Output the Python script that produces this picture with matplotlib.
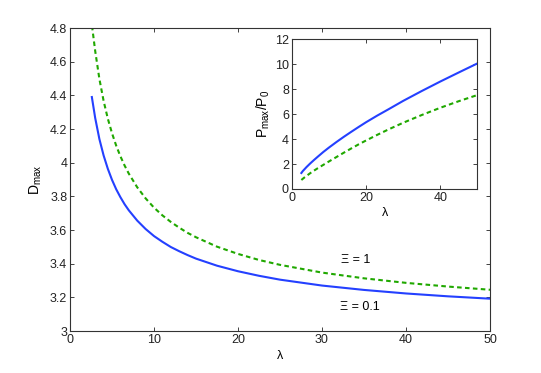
import numpy as np
import matplotlib
matplotlib.use("Agg")
import matplotlib.pyplot as plt
from matplotlib.ticker import FuncFormatter

plt.rcParams["font.family"] = ["Liberation Sans", "DejaVu Sans"]
plt.rcParams["mathtext.fontset"] = "custom"
plt.rcParams["mathtext.rm"] = "Liberation Sans"
plt.rcParams["mathtext.it"] = "Liberation Sans"

# main plot: D_max vs lambda
lam_xi01 = [2.6, 3.0, 3.5, 4.0, 4.5, 5.0, 5.5, 6.0, 6.5, 7.0, 8.0, 9.0, 10, 11, 12, 13, 14, 15,
            17.5, 20, 22.5, 25, 30, 35, 40, 45, 50]
dmax_xi01 = [4.39, 4.265, 4.14, 4.043, 3.964, 3.898, 3.842, 3.795, 3.753, 3.717, 3.656, 3.606,
             3.564, 3.530, 3.499, 3.474, 3.451, 3.430, 3.388, 3.355, 3.328, 3.305, 3.270, 3.244,
             3.223, 3.206, 3.192]

lam_xi1 = [2.5, 3.0, 3.5, 4.0, 4.5, 5.0, 5.5, 6.0, 6.5, 7.0, 8.0, 9.0, 10, 11, 12, 13, 14, 15,
           17.5, 20, 22.5, 25, 30, 35, 40, 45, 50]
dmax_xi1 = [4.86, 4.663, 4.497, 4.367, 4.262, 4.175, 4.101, 4.038, 3.983, 3.935, 3.854, 3.788,
            3.733, 3.687, 3.648, 3.614, 3.583, 3.557, 3.501, 3.458, 3.422, 3.393, 3.347, 3.313,
            3.286, 3.264, 3.245]

# inset: P_max/P_0 vs lambda
lam_p = [2.6, 3, 3.5, 4, 5, 6, 7, 8.5, 10, 12, 14, 16, 18, 20, 23, 26, 30, 35, 40, 45, 50]
p_xi01 = [1.28, 1.44, 1.60, 1.76, 2.05, 2.32, 2.58, 2.96, 3.31, 3.75, 4.17, 4.57, 4.96, 5.34,
          5.87, 6.37, 7.05, 7.84, 8.60, 9.33, 10.05]
p_xi1 = [0.72, 0.82, 0.94, 1.05, 1.27, 1.47, 1.66, 1.93, 2.20, 2.55, 2.90, 3.24, 3.57, 3.88,
         4.33, 4.76, 5.30, 5.92, 6.50, 7.03, 7.52]

blue = "#2440ff"
green = "#20a800"
fmt = FuncFormatter(lambda v, p: "%g" % v)

fig = plt.figure(figsize=(5.41, 3.73), dpi=100)
ax = fig.add_axes([0.1294, 0.1126, 0.7763, 0.8123])
ax.plot(lam_xi01, dmax_xi01, color=blue, lw=1.5)
ax.plot(lam_xi1, dmax_xi1, color=green, lw=1.5, dashes=(2.2, 1.6))
ax.set_xlim(0, 50)
ax.set_ylim(3, 4.8)
ax.set_xticks([0, 10, 20, 30, 40, 50])
ax.set_yticks(np.arange(3, 4.81, 0.2))
ax.yaxis.set_major_formatter(fmt)
ax.set_xlabel("λ", fontsize=9, labelpad=3)
ax.set_ylabel(r"$\mathrm{D_{max}}$", fontsize=10, labelpad=4)
ax.text(32.3, 3.42, "Ξ = 1", fontsize=9, va="center")
ax.text(32.2, 3.14, "Ξ = 0.1", fontsize=9, va="center")

ins = fig.add_axes([0.5392, 0.4933, 0.3434, 0.4021])
ins.plot(lam_p, p_xi01, color=blue, lw=1.5)
ins.plot(lam_p, p_xi1, color=green, lw=1.5, dashes=(2.2, 1.6))
ins.set_xlim(0, 50)
ins.set_ylim(0, 12)
ins.set_xticks([0, 20, 40])
ins.set_yticks([0, 2, 4, 6, 8, 10, 12])
ins.set_xlabel("λ", fontsize=9, labelpad=2)
ins.set_ylabel(r"$\mathrm{P_{max}/P_0}$", fontsize=10, labelpad=2)

for a in (ax, ins):
    a.tick_params(direction="in", length=3, width=0.6, top=True, right=True,
                  labelsize=9, colors="#222222", pad=2)
    for s in a.spines.values():
        s.set_linewidth(0.8)
        s.set_color("#333333")

fig.savefig("out.png", dpi=100)
